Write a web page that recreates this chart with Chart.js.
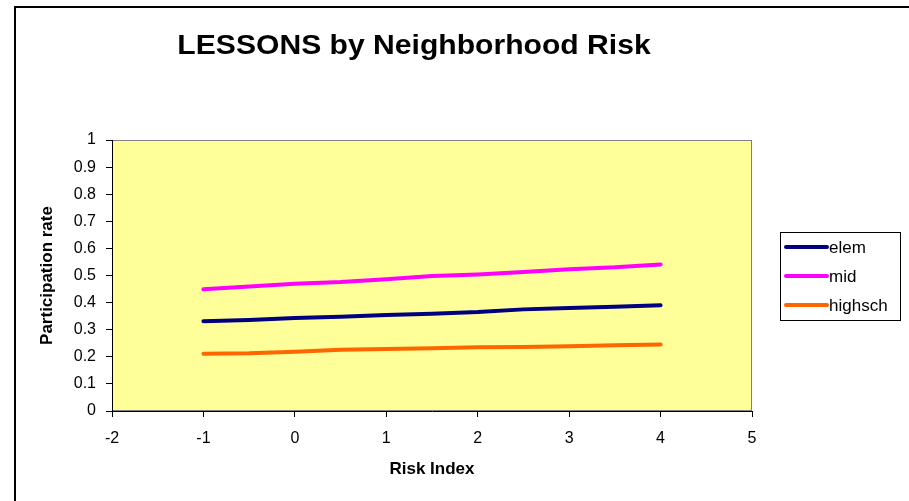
<!DOCTYPE html>
<html>
<head>
<meta charset="utf-8">
<script src="https://cdn.jsdelivr.net/npm/chart.js@4"></script>
<style>
  html, body { margin: 0; padding: 0; background: #fff; overflow: hidden; }
  #wrap { position: relative; width: 909px; height: 501px; }
  #frame { position: absolute; left: 14px; top: 6px; width: 1000px; height: 1000px;
           border-left: 2px solid #000; border-top: 2px solid #000; pointer-events: none; z-index: 2; }
  canvas { position: absolute; left: 0; top: 0; }
</style>
</head>
<body>
<div id="wrap">
  <canvas id="c" width="909" height="501"></canvas>
  <div id="frame"></div>
</div>
<script>
const chartTitle = 'LESSONS by Neighborhood Risk';
const xAxisTitle = 'Risk Index';
const yAxisTitle = 'Participation rate';
const xValues = [-1, -0.5, 0, 0.5, 1, 1.5, 2, 2.5, 3, 3.5, 4];
const seriesNames = ['elem', 'mid', 'highsch'];
const elem    = [0.331, 0.336, 0.343, 0.348, 0.354, 0.359, 0.365, 0.375, 0.380, 0.385, 0.390];
const mid     = [0.449, 0.459, 0.470, 0.476, 0.486, 0.498, 0.504, 0.513, 0.523, 0.530, 0.541];
const highsch = [0.211, 0.213, 0.219, 0.226, 0.229, 0.232, 0.235, 0.236, 0.239, 0.243, 0.245];
const xTickLabels = ['-2', '-1', '0', '1', '2', '3', '4', '5'];
const yTickLabels = ['0', '0.1', '0.2', '0.3', '0.4', '0.5', '0.6', '0.7', '0.8', '0.9', '1'];
const colors = ['#000080', '#FF00FF', '#FF6600'];

const FONT = '"Liberation Sans", Arial, sans-serif';

function pts(arr) { return xValues.map((x, i) => ({ x: x, y: arr[i] })); }

const plotBg = {
  id: 'plotBg',
  beforeDraw(chart) {
    const { ctx, chartArea: a } = chart;
    ctx.save();
    ctx.fillStyle = '#FFFF99';
    ctx.fillRect(a.left, a.top, a.right - a.left, a.bottom - a.top);
    ctx.strokeStyle = '#808080';
    ctx.lineWidth = 1;
    ctx.strokeRect(a.left + 0.5, a.top + 0.5, a.right - a.left - 1, a.bottom - a.top - 1);
    ctx.restore();
  }
};

const titleAndLegend = {
  id: 'titleAndLegend',
  afterDraw(chart) {
    const ctx = chart.ctx;
    ctx.save();
    ctx.fillStyle = '#000';
    ctx.font = 'bold 28px ' + FONT;
    ctx.textAlign = 'center';
    ctx.textBaseline = 'middle';
    ctx.translate(414, 46);
    ctx.scale(1.075, 1);
    ctx.fillText(chartTitle, 0, 0);
    ctx.restore();

    ctx.save();
    // legend box
    ctx.fillStyle = '#fff';
    ctx.fillRect(780, 232, 121, 89);
    ctx.strokeStyle = '#000';
    ctx.lineWidth = 1;
    ctx.strokeRect(780.5, 232.5, 120, 88);
    ctx.font = '17px ' + FONT;
    ctx.textAlign = 'left';
    ctx.textBaseline = 'middle';
    chart.data.datasets.forEach((ds, i) => {
      const y = 247 + i * 29;
      ctx.strokeStyle = ds.borderColor;
      ctx.lineWidth = 4;
      ctx.lineCap = 'round';
      ctx.beginPath();
      ctx.moveTo(786, y);
      ctx.lineTo(827, y);
      ctx.stroke();
      ctx.fillStyle = '#000';
      ctx.fillText(ds.label, 829, y + 1);
    });
    ctx.restore();
  }
};

new Chart(document.getElementById('c'), {
  type: 'line',
  data: {
    datasets: [
      { label: seriesNames[0], data: pts(elem), borderColor: colors[0] },
      { label: seriesNames[1], data: pts(mid), borderColor: colors[1] },
      { label: seriesNames[2], data: pts(highsch), borderColor: colors[2] }
    ].map(d => Object.assign(d, { borderWidth: 4, pointRadius: 0, tension: 0, fill: false, borderCapStyle: 'round', borderJoinStyle: 'round' }))
  },
  options: {
    responsive: false,
    animation: false,
    layout: { padding: { left: 0, top: 140, right: 157, bottom: 0 } },
    plugins: { legend: { display: false }, title: { display: false }, tooltip: { enabled: false } },
    scales: {
      x: {
        type: 'linear', min: -2, max: 5,
        afterFit(s) { s.height = 90; },
        border: { color: '#000', width: 1 },
        grid: { drawOnChartArea: false, drawTicks: true, tickLength: 6, color: '#000' },
        ticks: { stepSize: 1, padding: 12, color: '#000', font: { family: FONT, size: 16 },
                 maxRotation: 0, callback: (v, i) => xTickLabels[i] },
        title: { display: true, text: xAxisTitle, color: '#000',
                 font: { family: FONT, size: 17, weight: 'bold' }, padding: { top: 0, bottom: 21 } }
      },
      y: {
        type: 'linear', min: 0, max: 1,
        afterFit(s) { s.width = 112; },
        border: { color: '#000', width: 1 },
        grid: { drawOnChartArea: false, drawTicks: true, tickLength: 6, color: '#000' },
        ticks: { stepSize: 0.1, padding: 10, color: '#000', font: { family: FONT, size: 16 },
                 callback: (v, i) => yTickLabels[i] },
        title: { display: true, text: yAxisTitle, color: '#000',
                 font: { family: FONT, size: 17, weight: 'bold' }, padding: { top: 37, bottom: 0 } }
      }
    }
  },
  plugins: [plotBg, titleAndLegend]
});
</script>
</body>
</html>
